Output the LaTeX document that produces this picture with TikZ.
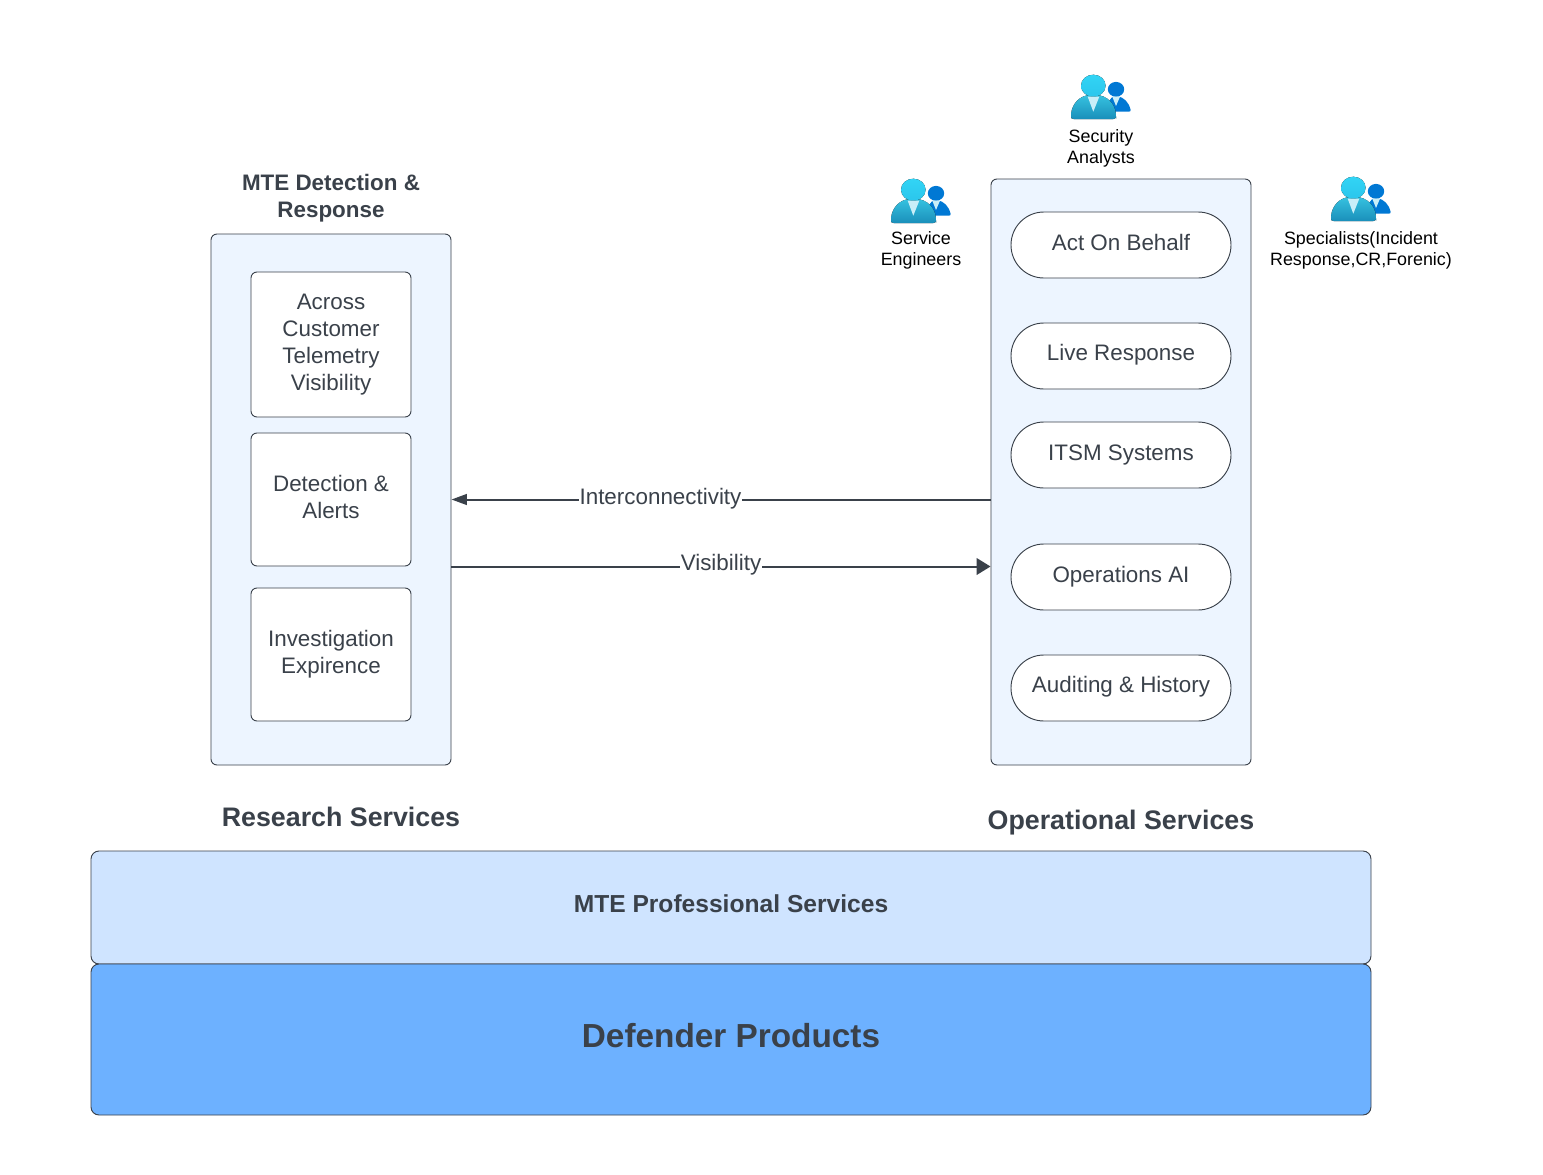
\documentclass[tikz,border=0pt]{standalone}
\usepackage{fontspec}
\setmainfont{Liberation Sans}
\usetikzlibrary{arrows.meta}
\definecolor{ink}{HTML}{3A414A}
\definecolor{panelfill}{HTML}{EDF5FF}
\definecolor{midfill}{HTML}{CFE4FF}
\definecolor{basefill}{HTML}{6DB1FF}
\definecolor{smallblue}{HTML}{0078D4}
\definecolor{bodytop}{HTML}{36C2E0}
\definecolor{bodybot}{HTML}{1A8FBA}
\definecolor{headtop}{HTML}{32D4F5}
\definecolor{headbot}{HTML}{2BC6EC}
\definecolor{collar}{HTML}{C9EEF8}
\newcommand\lifted[2][3.6pt]{\raisebox{0pt}[\height][#1]{#2}}
\newcommand\boxat[7]{\node[#6,minimum width={(#4-#2)*0.75pt},minimum height={(#5-#3)*0.75pt}] (#1) at ({(#2+#4)/2},{(#3+#5)/2}) {#7};}
\tikzset{
  base/.style={inner sep=0pt,text=ink,align=center},
  panel/.style={base,draw=ink,line width=0.7pt,rounded corners=4.5pt,fill=panelfill},
  card/.style={base,draw=ink,line width=0.7pt,rounded corners=4.5pt,fill=white,font=\fontsize{16.8pt}{20.25pt}\selectfont},
  pill/.style={base,draw=ink,line width=0.7pt,rounded corners=24.7pt,fill=white,font=\fontsize{16.8pt}{20.25pt}\selectfont},
  bar/.style={base,draw=ink,line width=0.7pt,rounded corners=6pt},
  heading/.style={base,font=\fontsize{16.8pt}{20.25pt}\selectfont\bfseries},
  section/.style={base,font=\fontsize{20.1pt}{24pt}\selectfont\bfseries},
  who/.style={inner sep=0pt,align=center,text=black,font=\fontsize{13.4pt}{15.8pt}\selectfont},
  flow/.style={draw=ink,line width=1.5pt},
  flowlabel/.style={base,fill=white,inner xsep=0.5pt,inner ysep=1pt,font=\fontsize{16.8pt}{20pt}\selectfont},
  pics/people/.style={code={
    \fill[smallblue,rounded corners=1.5pt] (35,36.7) .. controls (37,27) and (40,21.5) .. (45,21.5) .. controls (52,21.5) and (58.5,28) .. (60,36.7) -- cycle;
    \fill[smallblue] (45,14.3) ellipse (8.2 and 7.4);
    \fill[collar] (41.3,21.7) -- (49,21.7) -- (45,31) -- cycle;
    \fill[top color=bodytop,bottom color=bodybot,rounded corners=2pt] (0,44) -- (0,41) .. controls (1,29) and (9,20) .. (22,20) .. controls (36,20) and (44,29) .. (45,41) -- (45,44) -- cycle;
    \fill[top color=headtop,bottom color=headbot] (22.3,10.7) ellipse (12.3 and 11);
    \fill[collar] (16.7,21.7) -- (28.3,21.7) -- (22.3,36.7) -- cycle;
  }},
}
\begin{document}
\begin{tikzpicture}[x=0.75pt,y=-0.75pt]
\useasboundingbox[fill=white] (0,0) rectangle (1543,1175);
% panels
\boxat{research}{211}{234}{451}{765}{panel}{}
\boxat{operational}{991}{179}{1251}{765}{panel}{}
% left cards
\boxat{telemetry}{251}{272}{411}{417}{card}{Across\\Customer\\Telemetry\\\lifted{Visibility}}
\boxat{detection}{251}{433}{411}{566}{card}{Detection \&\\\lifted[4.5pt]{Alerts}}
\boxat{investigation}{251}{588}{411}{721}{card}{Investigation\\\lifted{Expirence}}
% right pills
\boxat{behalf}{1011}{212}{1231}{278}{pill}{\lifted[4.5pt]{Act On Behalf}}
\boxat{live}{1011}{323}{1231}{389}{pill}{\lifted[6pt]{Live Response}}
\boxat{itsm}{1011}{422}{1231}{488}{pill}{\lifted[3pt]{ITSM Systems}}
\boxat{opsai}{1011}{544}{1231}{610}{pill}{\lifted[4.5pt]{Operations AI}}
\boxat{audit}{1011}{655}{1231}{721}{pill}{\lifted[6pt]{Auditing \& History}}
% bars
\boxat{mteps}{91}{851}{1371}{964}{bar,fill=midfill,font=\fontsize{18.45pt}{22pt}\selectfont\bfseries}{\lifted[6pt]{MTE Professional Services}}
\boxat{defender}{91}{964}{1371}{1115}{bar,fill=basefill,font=\fontsize{25pt}{30pt}\selectfont\bfseries}{\lifted[6.7pt]{Defender Products}}
% headings
\node[heading] (mtehead) at (331,198) {MTE Detection \&\\Response};
\node[section] (researchhead) at (341,817) {Research Services};
\node[section] (operationalhead) at (1121,823) {Operational Services};
% people
\pic at (1071,75) {people};
\pic at (891,179) {people};
\pic at (1331,177) {people};
\node[who] (analysts) at (1101,148.5) {Security\\Analysts};
\node[who] (engineers) at (921,250.5) {Service\\Engineers};
\node[who] (specialists) at (1361,250.5) {Specialists(Incident\\Response,CR,Forenic)};
% connectors
\coordinate (intery) at (0,499.5);
\coordinate (visy) at (0,566.5);
\draw[flow,-{Triangle[length=11.5pt,width=8pt]}] (operational.west |- intery) -- (research.east |- intery);
\draw[flow,-{Triangle[length=10.5pt,width=12.5pt]}] (research.east |- visy) -- (operational.west |- visy);
\node[flowlabel] (interlabel) at (660.5,499) {Interconnectivity};
\node[flowlabel] (vislabel) at (721,565) {Visibility};
\end{tikzpicture}
\end{document}
